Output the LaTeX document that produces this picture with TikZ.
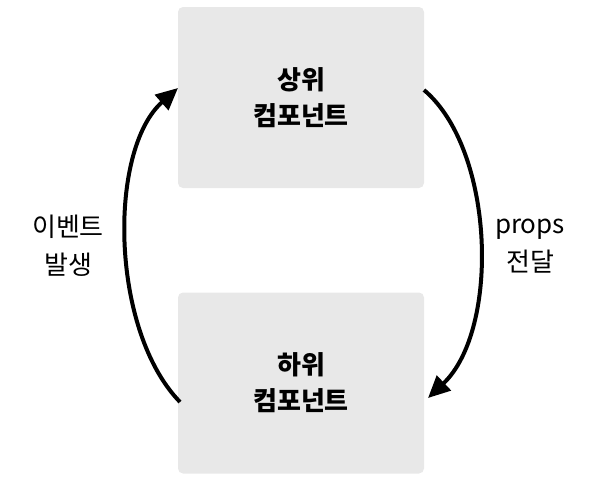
\documentclass[tikz,border=0pt]{standalone}
\usepackage{fontspec}
\setmainfont{Noto Sans CJK KR}
\usetikzlibrary{arrows.meta}
\definecolor{boxgray}{HTML}{E8E8E8}
\begin{document}
\begin{tikzpicture}[x=1pt,y=-1pt,
  box/.style={fill=boxgray,rounded corners=5pt,minimum width=246pt,minimum height=181pt,inner sep=0pt,align=center,font=\bfseries\fontsize{26}{36}\selectfont},
  lbl/.style={align=center,font=\fontsize{26}{38}\selectfont},
  arr/.style={line width=4pt,-{Triangle[length=22pt,width=20pt]}}]
\useasboundingbox (0,0) rectangle (604,483);
\node[box] (top) at (301,97.5) {상위\\컴포넌트};
\node[box] (bot) at (301,383) {하위\\컴포넌트};
\coordinate (r1) at (424,90);
\coordinate (r2) at (428,398);
\coordinate (l1) at (180,402);
\coordinate (l2) at (178,88);
\draw[arr] (r1) .. controls (495,150) and (500,330) .. (r2);
\draw[arr] (l1) .. controls (110,330) and (108,150) .. (l2);
\node[lbl] (ll) at (68,246) {이벤트\\발생};
\node[lbl] (rl) at (530,246) {props\\전달};
\end{tikzpicture}
\end{document}
